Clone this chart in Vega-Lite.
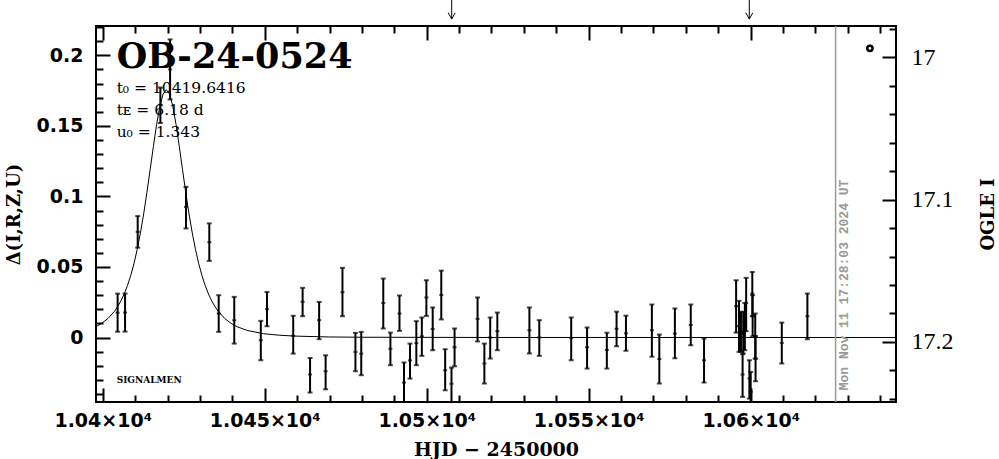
{
  "$schema": "https://vega.github.io/schema/vega-lite/v6.json",
  "width": 800,
  "height": 376,
  "autosize": {"type": "none"},
  "padding": {"left": 96, "top": 26, "right": 103, "bottom": 57},
  "background": "white",
  "config": {
    "view": {"stroke": "black", "strokeWidth": 2},
    "axis": {"domain": false, "grid": false, "tickColor": "black", "tickWidth": 2, "labelColor": "black", "titleColor": "black"}
  },
  "datasets": {
    "pts": [
      {"t": 10404.6, "d": 0.0176, "lo": 0.0041, "hi": 0.0311},
      {"t": 10406.9, "d": 0.0177, "lo": 0.0042, "hi": 0.0312},
      {"t": 10410.8, "d": 0.0749, "lo": 0.0637, "hi": 0.0861},
      {"t": 10417.8, "d": 0.1650, "lo": 0.1520, "hi": 0.1772},
      {"t": 10420.8, "d": 0.1900, "lo": 0.1687, "hi": 0.2113},
      {"t": 10425.7, "d": 0.0926, "lo": 0.0773, "hi": 0.1068},
      {"t": 10432.9, "d": 0.0676, "lo": 0.0543, "hi": 0.0809},
      {"t": 10435.8, "d": 0.0170, "lo": 0.0040, "hi": 0.0300},
      {"t": 10440.6, "d": 0.0123, "lo": -0.0043, "hi": 0.0288},
      {"t": 10448.8, "d": -0.0019, "lo": -0.0161, "hi": 0.0118},
      {"t": 10450.7, "d": 0.0201, "lo": 0.0080, "hi": 0.0323},
      {"t": 10458.8, "d": 0.0012, "lo": -0.0114, "hi": 0.0154},
      {"t": 10461.7, "d": 0.0253, "lo": 0.0151, "hi": 0.0352},
      {"t": 10464.0, "d": -0.0262, "lo": -0.0390, "hi": -0.0145},
      {"t": 10466.8, "d": 0.0123, "lo": -0.0012, "hi": 0.0252},
      {"t": 10468.8, "d": -0.0239, "lo": -0.0367, "hi": -0.0126},
      {"t": 10474.0, "d": 0.0321, "lo": 0.0151, "hi": 0.0494},
      {"t": 10478.0, "d": -0.0102, "lo": -0.0239, "hi": 0.0033},
      {"t": 10479.8, "d": -0.0114, "lo": -0.0267, "hi": 0.0040},
      {"t": 10486.6, "d": 0.0245, "lo": 0.0064, "hi": 0.0418},
      {"t": 10488.8, "d": -0.0080, "lo": -0.0196, "hi": 0.0035},
      {"t": 10491.6, "d": 0.0170, "lo": 0.0047, "hi": 0.0298},
      {"t": 10493.0, "d": -0.0320, "lo": -0.0460, "hi": -0.0177},
      {"t": 10494.85, "d": -0.0162, "lo": -0.0291, "hi": -0.0043},
      {"t": 10496.8, "d": -0.0040, "lo": -0.0196, "hi": 0.0116},
      {"t": 10498.5, "d": 0.0009, "lo": -0.0130, "hi": 0.0142},
      {"t": 10499.9, "d": 0.0284, "lo": 0.0153, "hi": 0.0406},
      {"t": 10501.85, "d": 0.0060, "lo": -0.0090, "hi": 0.0213},
      {"t": 10504.5, "d": 0.0301, "lo": 0.0128, "hi": 0.0474},
      {"t": 10505.7, "d": -0.0232, "lo": -0.0374, "hi": -0.0083},
      {"t": 10507.65, "d": -0.0328, "lo": -0.0460, "hi": -0.0213},
      {"t": 10508.6, "d": -0.0069, "lo": -0.0204, "hi": 0.0064},
      {"t": 10515.7, "d": 0.0132, "lo": -0.0028, "hi": 0.0284},
      {"t": 10517.8, "d": -0.0184, "lo": -0.0326, "hi": -0.0043},
      {"t": 10519.6, "d": 0.0000, "lo": -0.0149, "hi": 0.0142},
      {"t": 10521.8, "d": 0.0045, "lo": -0.0090, "hi": 0.0177},
      {"t": 10531.7, "d": 0.0052, "lo": -0.0113, "hi": 0.0213},
      {"t": 10534.75, "d": 0.0000, "lo": -0.0130, "hi": 0.0123},
      {"t": 10544.6, "d": -0.0005, "lo": -0.0161, "hi": 0.0142},
      {"t": 10549.5, "d": -0.0069, "lo": -0.0220, "hi": 0.0071},
      {"t": 10555.6, "d": -0.0088, "lo": -0.0220, "hi": 0.0034},
      {"t": 10558.6, "d": 0.0062, "lo": -0.0062, "hi": 0.0183},
      {"t": 10561.5, "d": 0.0030, "lo": -0.0094, "hi": 0.0155},
      {"t": 10569.5, "d": 0.0052, "lo": -0.0136, "hi": 0.0234},
      {"t": 10571.8, "d": -0.0152, "lo": -0.0326, "hi": 0.0021},
      {"t": 10576.6, "d": 0.0028, "lo": -0.0147, "hi": 0.0206},
      {"t": 10581.5, "d": 0.0089, "lo": -0.0055, "hi": 0.0234},
      {"t": 10585.6, "d": -0.0161, "lo": -0.0319, "hi": -0.0007},
      {"t": 10595.5, "d": 0.0222, "lo": 0.0035, "hi": 0.0406},
      {"t": 10596.4, "d": 0.0080, "lo": -0.0102, "hi": 0.0260},
      {"t": 10597.0, "d": 0.0040, "lo": -0.0102, "hi": 0.0182},
      {"t": 10597.5, "d": -0.0262, "lo": -0.0421, "hi": -0.0118},
      {"t": 10597.7, "d": 0.0028, "lo": -0.0113, "hi": 0.0182},
      {"t": 10598.2, "d": 0.0050, "lo": -0.0090, "hi": 0.0245},
      {"t": 10598.6, "d": 0.0246, "lo": 0.0045, "hi": 0.0423},
      {"t": 10599.6, "d": -0.0290, "lo": -0.0433, "hi": -0.0161},
      {"t": 10600.0, "d": -0.0385, "lo": -0.0460, "hi": -0.0244},
      {"t": 10600.5, "d": 0.0312, "lo": 0.0151, "hi": 0.0465},
      {"t": 10600.6, "d": 0.0151, "lo": 0.0009, "hi": 0.0300},
      {"t": 10601.4, "d": 0.0009, "lo": -0.0150, "hi": 0.0170},
      {"t": 10601.5, "d": -0.0149, "lo": -0.0310, "hi": 0.0010},
      {"t": 10609.6, "d": -0.0038, "lo": -0.0184, "hi": 0.0106},
      {"t": 10617.5, "d": 0.0151, "lo": -0.0012, "hi": 0.0312}
    ],
    "curve": [
      {"t": 10398.0, "d": 0.0078}, {"t": 10399.64, "d": 0.0100}, {"t": 10401.64, "d": 0.0135},
      {"t": 10403.64, "d": 0.0186}, {"t": 10404.64, "d": 0.0220}, {"t": 10405.64, "d": 0.0260},
      {"t": 10406.64, "d": 0.0309}, {"t": 10407.64, "d": 0.0368}, {"t": 10408.64, "d": 0.0439},
      {"t": 10409.64, "d": 0.0523}, {"t": 10410.64, "d": 0.0624}, {"t": 10411.64, "d": 0.0741},
      {"t": 10412.64, "d": 0.0876}, {"t": 10413.64, "d": 0.1027}, {"t": 10414.64, "d": 0.1189},
      {"t": 10415.64, "d": 0.1354}, {"t": 10416.64, "d": 0.1510}, {"t": 10417.64, "d": 0.1639},
      {"t": 10418.64, "d": 0.1726}, {"t": 10419.64, "d": 0.1756}, {"t": 10420.64, "d": 0.1726},
      {"t": 10421.64, "d": 0.1639}, {"t": 10422.64, "d": 0.1510}, {"t": 10423.64, "d": 0.1354},
      {"t": 10424.64, "d": 0.1189}, {"t": 10425.64, "d": 0.1027}, {"t": 10426.64, "d": 0.0876},
      {"t": 10427.64, "d": 0.0741}, {"t": 10428.64, "d": 0.0624}, {"t": 10429.64, "d": 0.0523},
      {"t": 10430.64, "d": 0.0439}, {"t": 10431.64, "d": 0.0368}, {"t": 10432.64, "d": 0.0309},
      {"t": 10433.64, "d": 0.0260}, {"t": 10434.64, "d": 0.0220}, {"t": 10435.64, "d": 0.0186},
      {"t": 10437.64, "d": 0.0135}, {"t": 10439.64, "d": 0.0100}, {"t": 10441.64, "d": 0.0075},
      {"t": 10444.64, "d": 0.0050}, {"t": 10449.64, "d": 0.0027}, {"t": 10454.64, "d": 0.0016},
      {"t": 10459.64, "d": 0.0010}, {"t": 10469.64, "d": 0.0004}, {"t": 10479.64, "d": 0.0002},
      {"t": 10519.64, "d": 0.00003}, {"t": 10645.0, "d": 0.0}
    ],
    "params": [
      {"t": 10404.3, "d": 0.1733, "label": "t₀ = 10419.6416"},
      {"t": 10404.3, "d": 0.1576, "label": "tᴇ = 6.18 d"},
      {"t": 10404.3, "d": 0.1420, "label": "u₀ = 1.343"}
    ]
  },
  "layer": [
    {
      "layer": [
        {
          "data": {"name": "curve"},
          "mark": {"type": "line", "color": "black", "strokeWidth": 1, "clip": true},
          "encoding": {
            "x": {"field": "t", "type": "quantitative", "scale": {"domain": [10397.93, 10644.85], "nice": false, "zero": false},
              "axis": {"orient": "bottom", "values": [10400, 10450, 10500, 10550, 10600], "tickSize": -14,
                "labelExpr": "format(datum.value/10000, '.3~f') + '×10⁴'", "labelFont": "DejaVu Sans", "labelFontWeight": "bold", "labelFontSize": 19, "labelPadding": 23, "labelBaseline": "top",
                "title": "HJD − 2450000", "titleFont": "DejaVu Serif", "titleFontWeight": "bold", "titleFontSize": 19, "titleX": 400, "titleY": 47, "titleBaseline": "middle", "titleAlign": "center"}},
            "y": {"field": "d", "type": "quantitative", "scale": {"domain": [-0.0457, 0.2208], "nice": false, "zero": false},
              "axis": {"orient": "left", "values": [0, 0.05, 0.1, 0.15, 0.2], "tickSize": -14,
                "labelExpr": "format(datum.value, '~g')", "labelFont": "DejaVu Sans", "labelFontWeight": "bold", "labelFontSize": 19, "labelPadding": 27,
                "title": "Δ(I,R,Z,U)", "titleFont": "DejaVu Serif", "titleFontWeight": "bold", "titleFontSize": 18, "titleAngle": 270, "titleX": -82, "titleY": 188, "titleAlign": "center", "titleBaseline": "middle"}}
          }
        },
        {
          "data": {"name": "pts"},
          "mark": {"type": "rule", "color": "black", "strokeWidth": 2, "clip": true},
          "encoding": {
            "x": {"field": "t", "type": "quantitative", "scale": {"domain": [10397.93, 10644.85], "nice": false, "zero": false},
              "axis": {"orient": "bottom", "values": [10410, 10420, 10430, 10440, 10460, 10470, 10480, 10490, 10510, 10520, 10530, 10540, 10560, 10570, 10580, 10590, 10610, 10620, 10630, 10640], "tickSize": -7, "labels": false, "title": null}},
            "y": {"field": "lo", "type": "quantitative", "scale": {"domain": [-0.0457, 0.2208], "nice": false, "zero": false},
              "axis": {"orient": "left", "values": [-0.04, -0.03, -0.02, -0.01, 0.01, 0.02, 0.03, 0.04, 0.06, 0.07, 0.08, 0.09, 0.11, 0.12, 0.13, 0.14, 0.16, 0.17, 0.18, 0.19, 0.21, 0.22], "tickSize": -7, "labels": false, "title": null}},
            "y2": {"field": "hi"}
          }
        },
        {
          "data": {"name": "pts"},
          "mark": {"type": "tick", "orient": "horizontal", "size": 5, "thickness": 2, "color": "black", "clip": true},
          "encoding": {
            "x": {"field": "t", "type": "quantitative", "scale": {"domain": [10397.93, 10644.85], "nice": false, "zero": false},
              "axis": {"orient": "top", "values": [10400, 10450, 10500, 10550, 10600], "tickSize": -14, "labels": false, "title": null}},
            "y": {"field": "lo", "type": "quantitative", "scale": {"domain": [-0.0457, 0.2208], "nice": false, "zero": false}, "axis": null}
          }
        },
        {
          "data": {"name": "pts"},
          "mark": {"type": "tick", "orient": "horizontal", "size": 5, "thickness": 2, "color": "black", "clip": true},
          "encoding": {
            "x": {"field": "t", "type": "quantitative", "scale": {"domain": [10397.93, 10644.85], "nice": false, "zero": false},
              "axis": {"orient": "top", "values": [10410, 10420, 10430, 10440, 10460, 10470, 10480, 10490, 10510, 10520, 10530, 10540, 10560, 10570, 10580, 10590, 10610, 10620, 10630, 10640], "tickSize": -7, "labels": false, "title": null}},
            "y": {"field": "hi", "type": "quantitative", "scale": {"domain": [-0.0457, 0.2208], "nice": false, "zero": false}, "axis": null}
          }
        },
        {
          "data": {"name": "pts"},
          "mark": {"type": "tick", "orient": "horizontal", "size": 4, "thickness": 2, "color": "black", "clip": true},
          "encoding": {
            "x": {"field": "t", "type": "quantitative", "scale": {"domain": [10397.93, 10644.85], "nice": false, "zero": false}, "axis": null},
            "y": {"field": "d", "type": "quantitative", "scale": {"domain": [-0.0457, 0.2208], "nice": false, "zero": false}, "axis": null}
          }
        },
        {
          "data": {"values": [{"t": 10404.3, "d": 0.1908, "label": "OB-24-0524"}]},
          "mark": {"type": "text", "font": "DejaVu Serif", "fontWeight": "bold", "fontSize": 35, "align": "left", "baseline": "alphabetic", "color": "black"},
          "encoding": {
            "x": {"field": "t", "type": "quantitative", "scale": {"domain": [10397.93, 10644.85], "nice": false, "zero": false}, "axis": null},
            "y": {"field": "d", "type": "quantitative", "scale": {"domain": [-0.0457, 0.2208], "nice": false, "zero": false}, "axis": null},
            "text": {"field": "label"}
          }
        },
        {
          "data": {"name": "params"},
          "mark": {"type": "text", "font": "DejaVu Serif", "fontSize": 15.5, "align": "left", "baseline": "alphabetic", "color": "black"},
          "encoding": {
            "x": {"field": "t", "type": "quantitative", "scale": {"domain": [10397.93, 10644.85], "nice": false, "zero": false}, "axis": null},
            "y": {"field": "d", "type": "quantitative", "scale": {"domain": [-0.0457, 0.2208], "nice": false, "zero": false}, "axis": null},
            "text": {"field": "label"}
          }
        },
        {
          "data": {"values": [{"t": 10404.3, "d": -0.0324, "label": "SIGNALMEN"}]},
          "mark": {"type": "text", "font": "DejaVu Serif", "fontWeight": "bold", "fontSize": 9, "align": "left", "baseline": "alphabetic", "color": "black"},
          "encoding": {
            "x": {"field": "t", "type": "quantitative", "scale": {"domain": [10397.93, 10644.85], "nice": false, "zero": false}, "axis": null},
            "y": {"field": "d", "type": "quantitative", "scale": {"domain": [-0.0457, 0.2208], "nice": false, "zero": false}, "axis": null},
            "text": {"field": "label"}
          }
        },
        {
          "data": {"values": [{"t": 10626.2}]},
          "mark": {"type": "rule", "color": "#9a9a9a", "strokeWidth": 1.5},
          "encoding": {
            "x": {"field": "t", "type": "quantitative", "scale": {"domain": [10397.93, 10644.85], "nice": false, "zero": false}, "axis": null}
          }
        },
        {
          "data": {"values": [{"t": 10626.2, "d": -0.0374, "label": "Mon Nov 11 17:28:03 2024 UT"}]},
          "mark": {"type": "text", "font": "Liberation Mono", "fontWeight": "bold", "fontSize": 13, "angle": 270, "align": "left", "baseline": "top", "dy": 2, "color": "#999999"},
          "encoding": {
            "x": {"field": "t", "type": "quantitative", "scale": {"domain": [10397.93, 10644.85], "nice": false, "zero": false}, "axis": null},
            "y": {"field": "d", "type": "quantitative", "scale": {"domain": [-0.0457, 0.2208], "nice": false, "zero": false}, "axis": null},
            "text": {"field": "label"}
          }
        },
        {
          "data": {"values": [{"t": 10507.72, "top": 0.2392, "tip": 0.2257}, {"t": 10599.57, "top": 0.2392, "tip": 0.2257}]},
          "mark": {"type": "rule", "color": "black", "strokeWidth": 1},
          "encoding": {
            "x": {"field": "t", "type": "quantitative", "scale": {"domain": [10397.93, 10644.85], "nice": false, "zero": false}, "axis": null},
            "y": {"field": "top", "type": "quantitative", "scale": {"domain": [-0.0457, 0.2208], "nice": false, "zero": false}, "axis": null},
            "y2": {"field": "tip"}
          }
        },
        {
          "data": {"values": [{"t": 10507.72, "tip": 0.2257}, {"t": 10599.57, "tip": 0.2257}]},
          "mark": {"type": "point", "shape": "M-1,-1.8L0,0L1,-1.8", "size": 49, "filled": false, "color": "black", "strokeWidth": 1, "opacity": 1},
          "encoding": {
            "x": {"field": "t", "type": "quantitative", "scale": {"domain": [10397.93, 10644.85], "nice": false, "zero": false}, "axis": null},
            "y": {"field": "tip", "type": "quantitative", "scale": {"domain": [-0.0457, 0.2208], "nice": false, "zero": false}, "axis": null}
          }
        },
        {
          "data": {"values": [{"t": 10636.8, "d": 0.205}]},
          "mark": {"type": "point", "shape": "circle", "size": 28, "filled": false, "color": "black", "strokeWidth": 2.5, "opacity": 1},
          "encoding": {
            "x": {"field": "t", "type": "quantitative", "scale": {"domain": [10397.93, 10644.85], "nice": false, "zero": false}, "axis": null},
            "y": {"field": "d", "type": "quantitative", "scale": {"domain": [-0.0457, 0.2208], "nice": false, "zero": false}, "axis": null}
          }
        }
      ],
      "resolve": {"axis": {"x": "independent", "y": "independent"}}
    },
    {
      "data": {"values": [{"m": 17.1}]},
      "mark": {"type": "point", "opacity": 0},
      "encoding": {
        "y": {"field": "m", "type": "quantitative", "scale": {"domain": [16.978, 17.2422], "reverse": true, "nice": false, "zero": false},
          "axis": {"orient": "right", "values": [17, 17.1, 17.2], "tickSize": -14, "labelExpr": "format(datum.value, '~g')", "labelFont": "Liberation Serif", "labelFontSize": 24, "labelPadding": 29,
            "title": "OGLE I", "titleFont": "DejaVu Serif", "titleFontWeight": "bold", "titleFontSize": 18, "titleAngle": 270, "titleX": 92, "titleY": 188, "titleAlign": "center", "titleBaseline": "middle"}}
      }
    },
    {
      "data": {"values": [{"m": 17.1}]},
      "mark": {"type": "point", "opacity": 0},
      "encoding": {
        "y": {"field": "m", "type": "quantitative", "scale": {"domain": [16.978, 17.2422], "reverse": true, "nice": false, "zero": false},
          "axis": {"orient": "right", "values": [16.98, 17.02, 17.04, 17.06, 17.08, 17.12, 17.14, 17.16, 17.18, 17.22, 17.24], "tickSize": -7, "labels": false, "title": null}}
      }
    }
  ],
  "resolve": {"scale": {"y": "independent"}, "axis": {"x": "independent", "y": "independent"}}
}
